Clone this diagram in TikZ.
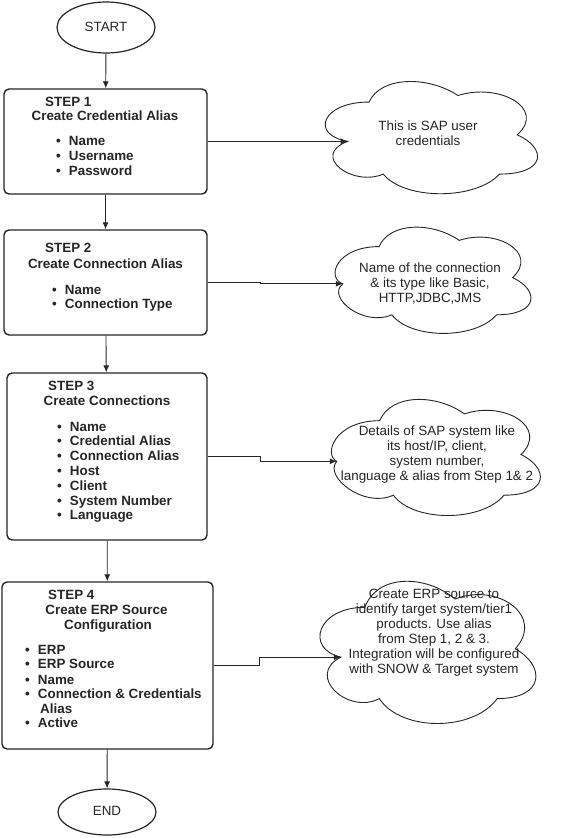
\documentclass[tikz,border=0pt]{standalone}
\usepackage{fontspec}
\setmainfont{Liberation Sans}
\usetikzlibrary{shapes.geometric,arrows.meta}
% #1 node name, #2 width, #3 height, #4 depth of the left notch
\newcommand\drawiocloud[4]{%
  \begin{scope}[shift={(#1.north west)}, xscale=#2, yscale=#3]
    \draw[cloudline] (0.25,0.25) .. controls (0.05,0.25) and (0,0.5) .. (#4,0.55)
      .. controls (0,0.66) and (0.18,0.9) .. (0.31,0.8)
      .. controls (0.4,1) and (0.7,1) .. (0.8,0.8)
      .. controls (1,0.8) and (1,0.6) .. (0.875,0.5)
      .. controls (1,0.3) and (0.8,0.1) .. (0.625,0.2)
      .. controls (0.5,0.05) and (0.3,0.05) .. (0.25,0.25) -- cycle;
    \coordinate (#1tip) at (#4,0.55);
  \end{scope}}
\begin{document}
\begin{tikzpicture}[x=1pt,y=-1pt,
  every node/.style={font=\fontsize{13.4}{15}\selectfont, text=black!85},
  term/.style={ellipse, draw=black!85, line width=1.2pt, inner sep=0},
  stepbox/.style={draw=black!85, line width=1.4pt, rounded corners=5pt, inner sep=0},
  cloudline/.style={draw=black!85, line width=0.9pt},
  cloudbox/.style={inner sep=0, draw=none},
  ln/.style={inner sep=0, anchor=west, font=\fontsize{13.4}{15}\selectfont\bfseries, text height=9pt, text depth=2.5pt},
  ctxt/.style={inner sep=0, align=center},
  arr/.style={draw=black!85, line width=0.9pt, -{Latex[length=7pt,width=6pt]}}
]
\useasboundingbox (0,0) rectangle (567,838);
\fill[white] (0,0) rectangle (567,838);

% terminals
\node[term, minimum width=98pt, minimum height=51pt] (start) at (106,27.5) {};
\node[inner sep=0] (starttxt) at (106,27) {START};
\node[term, minimum width=98pt, minimum height=46pt] (end) at (107,812) {};
\node[inner sep=0] (endtxt) at (107,811) {END};

% step boxes
\node[stepbox, minimum width=203pt, minimum height=105pt] (s1) at (105.5,141.5) {};
\node[stepbox, minimum width=203pt, minimum height=105pt] (s2) at (105.5,282.5) {};
\node[stepbox, minimum width=200pt, minimum height=167pt] (s3) at (107,456.5) {};
\node[stepbox, minimum width=211pt, minimum height=167pt] (s4) at (107.5,665.5) {};

% step 1 text
\node[ln] (s1h) at (45,103) {STEP 1};
\node[ln, anchor=center] (s1t) at (105,117) {Create Credential Alias};
\foreach \t/\y [count=\i] in {Name/142,Username/157,Password/172}
  \node[ln] (s1l\i) at (56,\y) {\textbullet\hspace{8pt}\t};

% step 2 text
\node[ln] (s2h) at (45,249) {STEP 2};
\node[ln, anchor=center] (s2t) at (105.5,265) {Create Connection Alias};
\foreach \t/\y [count=\i] in {Name/291,Connection Type/305}
  \node[ln] (s2l\i) at (52,\y) {\textbullet\hspace{8pt}\t};

% step 3 text
\node[ln] (s3h) at (48,387) {STEP 3};
\node[ln, anchor=center] (s3t) at (107,402) {Create Connections};
\foreach \t/\y [count=\i] in {Name/428,Credential Alias/442,Connection Alias/457,Host/472,Client/487,System Number/502,Language/516}
  \node[ln] (s3l\i) at (57,\y) {\textbullet\hspace{8pt}\t};

% step 4 text
\node[ln] (s4h) at (48,596) {STEP 4};
\node[ln, anchor=center] (s4t) at (106.5,611) {Create ERP Source};
\node[ln, anchor=center] (s4u) at (108,626) {Configuration};
\foreach \t/\y [count=\i] in {ERP/651,ERP Source/665,Name/681,Connection \& Credentials/695,Active/724}
  \node[ln] (s4l\i) at (25,\y) {\textbullet\hspace{8pt}\t};
\node[ln] (s4alias) at (40,710) {Alias};

% clouds (draw.io cloud outline inside an invisible box node)
\node[cloudbox, minimum width=237pt, minimum height=131pt] (c1) at (428.5,135) {};
\drawiocloud{c1}{237}{131}{0.16}
\node[ctxt] (c1t) at (428,133.5) {This is SAP user\\credentials};
\node[cloudbox, minimum width=213.6pt, minimum height=124pt] (c2) at (432.7,277.8) {};
\drawiocloud{c2}{213.6}{124}{0.08}
\node[ctxt] (c2t) at (430,283) {Name of the connection\\\& its type like Basic,\\HTTP,JDBC,JMS};
\node[cloudbox, minimum width=226pt, minimum height=135.5pt] (c3) at (436.4,454.75) {};
\drawiocloud{c3}{226}{135.5}{0.06}
\node[ctxt] (c3t) at (437,454.5) {Details of SAP system like\\its host/IP, client,\\system number,\\language \& alias from Step 1\& 2};
\node[cloudbox, minimum width=240.5pt, minimum height=166pt] (c4) at (425.25,649) {};
\drawiocloud{c4}{240.5}{166}{0.15}
\node[ctxt] (c4t) at (434,632.5) {Create ERP source to\\identify target system/tier1\\products. Use alias\\from Step 1, 2 \& 3.\\Integration will be configured\\with SNOW \& Target system};

% connectors
\draw[arr] (start) -- (s1);
\draw[arr] (s1) -- (s2);
\draw[arr] (s2) -- (s3);
\draw[arr] (s3) -- (s4);
\draw[arr] (s4) -- (end);
\draw[arr] (s1.east) -- ++(53,0) |- (c1tip);
\draw[arr] (s2.east) -- ++(53,0) |- (c2tip);
\draw[arr] (s3.east) -- ++(53,0) |- (c3tip);
\draw[arr] (s4.east) -- ++(46,0) |- (c4tip);
\end{tikzpicture}
\end{document}
